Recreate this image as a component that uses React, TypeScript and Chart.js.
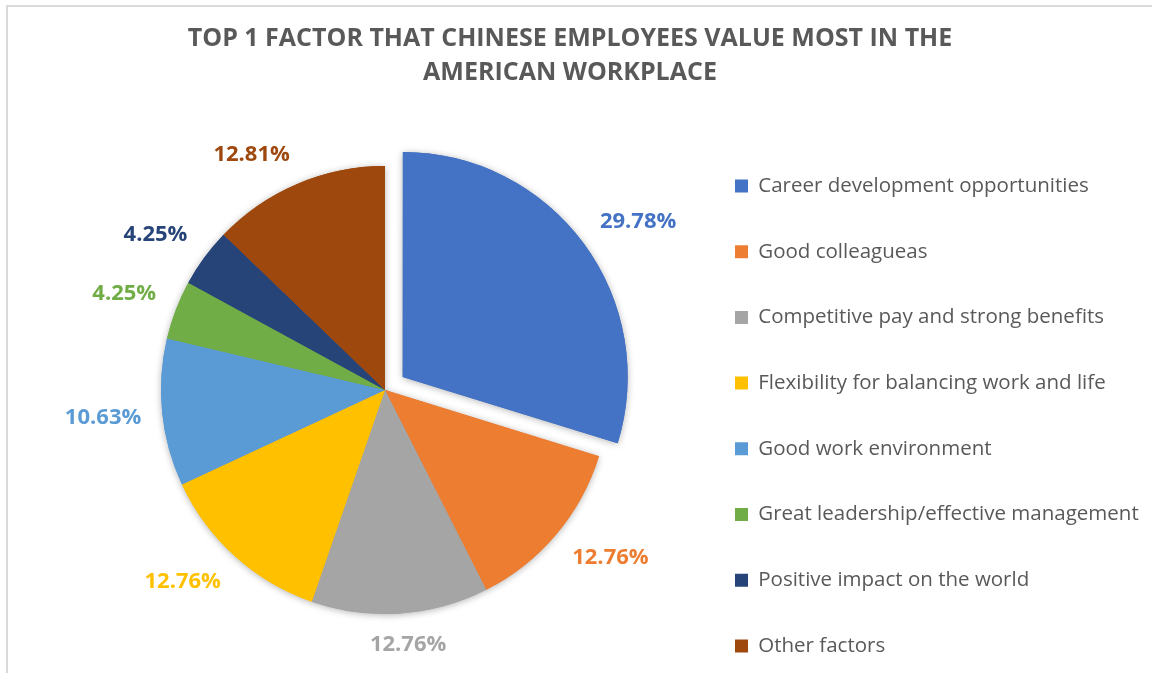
import { useEffect, useRef } from "react";
import { Chart, registerables } from "chart.js";

Chart.register(...registerables);

const FONT = '"Open Sans", "Noto Sans", sans-serif';

const categories = [
  "Career development opportunities",
  "Good colleagueas",
  "Competitive pay and strong benefits",
  "Flexibility for balancing work and life",
  "Good work environment",
  "Great leadership/effective management",
  "Positive impact on the world",
  "Other factors",
];
const shares = [29.78, 12.76, 12.76, 12.76, 10.63, 4.25, 4.25, 12.81];
const sliceColors = [
  "#4472C4",
  "#ED7D31",
  "#A5A5A5",
  "#FFC000",
  "#5B9BD5",
  "#70AD47",
  "#264478",
  "#9E480E",
];
const explode = [88, 0, 0, 0, 0, 0, 0, 0];
const titleLines = [
  "TOP 1 FACTOR THAT CHINESE EMPLOYEES VALUE MOST IN THE",
  "AMERICAN WORKPLACE",
];

// layout constants
const CANVAS_W = 1300;
const CANVAS_H = 708;
const LEGEND_FONT = 20.5;
const LEGEND_PAD = 45.2;
const LEGEND_BOX = 13;
const LEGEND_LEFT = 689.8;
const AREA_LEFT = 80.2;
const AREA_TOP = 72;

const framePlugin = {
  id: "frame",
  beforeDraw(chart: any) {
    const ctx = chart.ctx;
    ctx.save();
    ctx.fillStyle = "#ffffff";
    ctx.fillRect(0, 0, chart.width, chart.height);
    ctx.fillStyle = "#d9d9d9";
    ctx.fillRect(6, 5, chart.width, 2);
    ctx.fillRect(6, 5, 2, chart.height);
    ctx.restore();
  },
};

const headingPlugin = {
  id: "heading",
  afterDraw(chart: any) {
    const ctx = chart.ctx;
    ctx.save();
    ctx.font = `bold 25px ${FONT}`;
    ctx.fillStyle = "#595959";
    ctx.textAlign = "center";
    ctx.textBaseline = "middle";
    titleLines.forEach((line, i) => ctx.fillText(line, 570, 38.5 + i * 34));
    ctx.restore();
  },
};

const shadowPlugin = {
  id: "sliceShadow",
  beforeDatasetsDraw(chart: any) {
    const ctx = chart.ctx;
    const meta = chart.getDatasetMeta(0);
    ctx.save();
    ctx.shadowColor = "rgba(0,0,0,0.30)";
    ctx.shadowBlur = 7;
    ctx.shadowOffsetX = 0;
    ctx.shadowOffsetY = 1;
    meta.data.forEach((el: any) => el.draw(ctx));
    ctx.restore();
  },
};

const clamp1 = (v: number) => Math.max(-1, Math.min(1, v));

const pctLabelPlugin = {
  id: "pctLabels",
  afterDatasetsDraw(chart: any) {
    const ctx = chart.ctx;
    const ds = chart.data.datasets[0];
    const meta = chart.getDatasetMeta(0);
    ctx.save();
    ctx.font = `bold 22px ${FONT}`;
    ctx.textAlign = "center";
    ctx.textBaseline = "middle";
    meta.data.forEach((el: any, i: number) => {
      const p = el.getProps(["x", "y", "startAngle", "endAngle", "outerRadius"], true);
      const mid = (p.startAngle + p.endAngle) / 2;
      const dx = Math.cos(mid);
      const dy = Math.sin(mid);
      const off = (el.options.offset || 0) / 4;
      const text = Number(ds.data[i]).toFixed(2) + "%";
      const hw = ctx.measureText(text).width / 2;
      const hh = 10;
      const d = off + p.outerRadius + 21;
      const cx = p.x + dx * d + clamp1(dx * 2.5) * hw;
      const cy = p.y + dy * d + clamp1(dy * 2.5) * hh;
      ctx.fillStyle = sliceColors[i];
      ctx.fillText(text, cx, cy);
    });
    ctx.restore();
  },
};

export default function App() {
  const ref = useRef<HTMLCanvasElement>(null);
  useEffect(() => {
    const canvas = ref.current as HTMLCanvasElement;
    const m = document.createElement("canvas").getContext("2d") as CanvasRenderingContext2D;
    m.font = `${LEGEND_FONT}px ${FONT}`;
    const tw = Math.max(...categories.map((c) => m.measureText(c).width));
    const legendWidth = LEGEND_PAD + LEGEND_BOX + LEGEND_FONT / 2 + tw + 10;
    const padRight = CANVAS_W - (LEGEND_LEFT + legendWidth);

    const chart = new Chart(canvas, {
      type: "pie",
      data: {
        labels: categories,
        datasets: [
          {
            data: shares,
            backgroundColor: sliceColors,
            borderWidth: 0,
            offset: explode,
          } as any,
        ],
      },
      options: {
        animation: false,
        responsive: false,
        maintainAspectRatio: false,
        devicePixelRatio: 1,
        radius: 224,
        layout: {
          padding: { left: AREA_LEFT, right: padRight, top: AREA_TOP, bottom: 0 },
        },
        plugins: {
          title: { display: false },
          legend: {
            position: "right",
            fullSize: false,
            align: "center",
            title: {
              display: true,
              text: " ",
              padding: 0,
              font: { size: 10, lineHeight: "51.9px" },
            },
            labels: {
              boxWidth: LEGEND_BOX,
              boxHeight: LEGEND_BOX,
              padding: LEGEND_PAD,
              color: "#595959",
              font: { family: FONT, size: LEGEND_FONT },
            },
          },
          tooltip: { enabled: false },
        },
      } as any,
      plugins: [framePlugin, shadowPlugin, pctLabelPlugin, headingPlugin],
    });
    return () => chart.destroy();
  }, []);
  return (
    <div
      style={{
        position: "fixed",
        left: 0,
        top: 0,
        width: 1152,
        height: 673,
        overflow: "hidden",
        background: "#ffffff",
      }}
    >
      <canvas
        ref={ref}
        width={CANVAS_W}
        height={CANVAS_H}
        style={{ display: "block", width: CANVAS_W, height: CANVAS_H }}
      />
    </div>
  );
}
